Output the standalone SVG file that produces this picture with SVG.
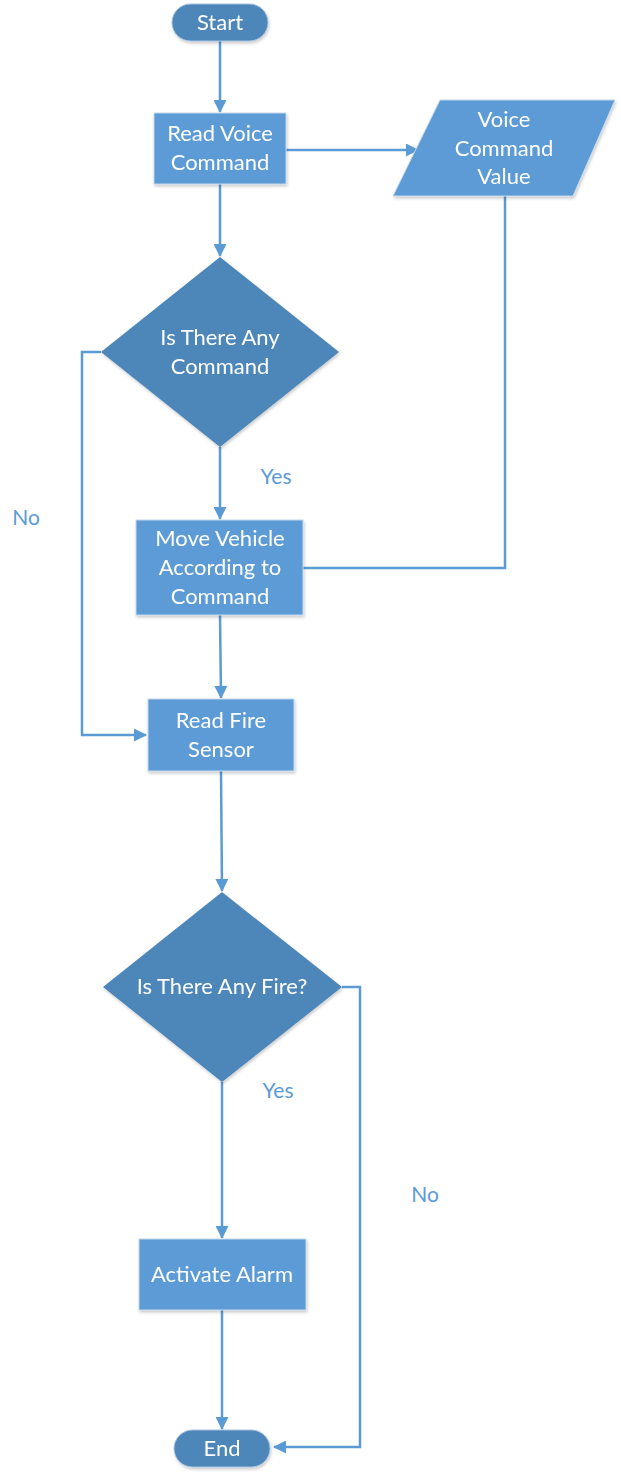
<svg xmlns="http://www.w3.org/2000/svg" width="621" height="1475" viewBox="0 0 621 1475">
<style>
.term{fill:#4e86b8;stroke:#a6c2df;stroke-width:1}
.proc{fill:#5b9bd5;stroke:#c5d8ec;stroke-width:1}
.dec{fill:#4e86b8;stroke:none}
.t{font-family:Lato,"Open Sans",sans-serif;font-size:22px;fill:#ffffff;text-anchor:middle}
.lbl{font-family:Lato,"Open Sans",sans-serif;font-size:21px;fill:#5b9bd5;text-anchor:middle}
.c{fill:none;stroke:#5b9bd5;stroke-width:2.5}
</style>
<defs>
<marker id="ah" markerWidth="13" markerHeight="13" refX="12" refY="6.5" orient="auto" markerUnits="userSpaceOnUse" viewBox="0 0 13 13">
<path d="M0,0 L13,6.5 L0,13 z" fill="#5b9bd5"/>
</marker>
<filter id="sh" x="-10%" y="-10%" width="130%" height="130%">
<feDropShadow dx="1" dy="2" stdDeviation="1.5" flood-color="#000" flood-opacity="0.2"/>
</filter>
</defs>
<g id="connectors">
<path class="c" d="M220,41 V112" marker-end="url(#ah)"/>
<path class="c" d="M286,150 H418" marker-end="url(#ah)"/>
<path class="c" d="M220,184 V256" marker-end="url(#ah)"/>
<path class="c" d="M505,196 V568 H303"/>
<path class="c" d="M101,352 H82 V735 H146" marker-end="url(#ah)"/>
<path class="c" d="M220,447 V519" marker-end="url(#ah)"/>
<path class="c" d="M220,615 L221,698" marker-end="url(#ah)"/>
<path class="c" d="M221,771 L222,891" marker-end="url(#ah)"/>
<path class="c" d="M342,987 H360 V1447 H274" marker-end="url(#ah)"/>
<path class="c" d="M222,1082 V1238" marker-end="url(#ah)"/>
<path class="c" d="M222,1310 V1429" marker-end="url(#ah)"/>
</g>
<g id="start" filter="url(#sh)"><rect class="term" x="172" y="4" width="96" height="37" rx="18.5"/><text class="t" x="220" y="30">Start</text></g>
<g id="readVoice" filter="url(#sh)"><rect class="proc" x="154" y="113" width="132" height="71"/><text class="t" x="220" y="141">Read Voice</text><text class="t" x="220" y="170">Command</text></g>
<g id="voiceValue" filter="url(#sh)"><polygon class="proc" points="440,100 615,100 573,196 393,196"/><text class="t" x="504" y="127">Voice</text><text class="t" x="504" y="156">Command</text><text class="t" x="504" y="184">Value</text></g>
<g id="anyCommand" filter="url(#sh)"><polygon class="dec" points="220,257 339,352 220,447 101,352"/><text class="t" x="220" y="345">Is There Any</text><text class="t" x="220" y="374">Command</text></g>
<g id="moveVehicle" filter="url(#sh)"><rect class="proc" x="136" y="520" width="167" height="95"/><text class="t" x="220" y="546">Move Vehicle</text><text class="t" x="220" y="575">According to</text><text class="t" x="220" y="604">Command</text></g>
<g id="readFire" filter="url(#sh)"><rect class="proc" x="148" y="699" width="146" height="72"/><text class="t" x="221" y="728">Read Fire</text><text class="t" x="221" y="757">Sensor</text></g>
<g id="anyFire" filter="url(#sh)"><polygon class="dec" points="222,892 342,987 222,1082 103,987"/><text class="t" x="222" y="994">Is There Any Fire?</text></g>
<g id="alarm" filter="url(#sh)"><rect class="proc" x="139" y="1239" width="167" height="71"/><text class="t" x="222" y="1282">Activate Alarm</text></g>
<g id="end" filter="url(#sh)"><rect class="term" x="174" y="1430" width="96" height="37" rx="18.5"/><text class="t" x="222" y="1456">End</text></g>
<g id="labels">
<text class="lbl" x="276" y="484">Yes</text>
<text class="lbl" x="26" y="525">No</text>
<text class="lbl" x="278" y="1098">Yes</text>
<text class="lbl" x="425" y="1202">No</text>
</g>
</svg>
